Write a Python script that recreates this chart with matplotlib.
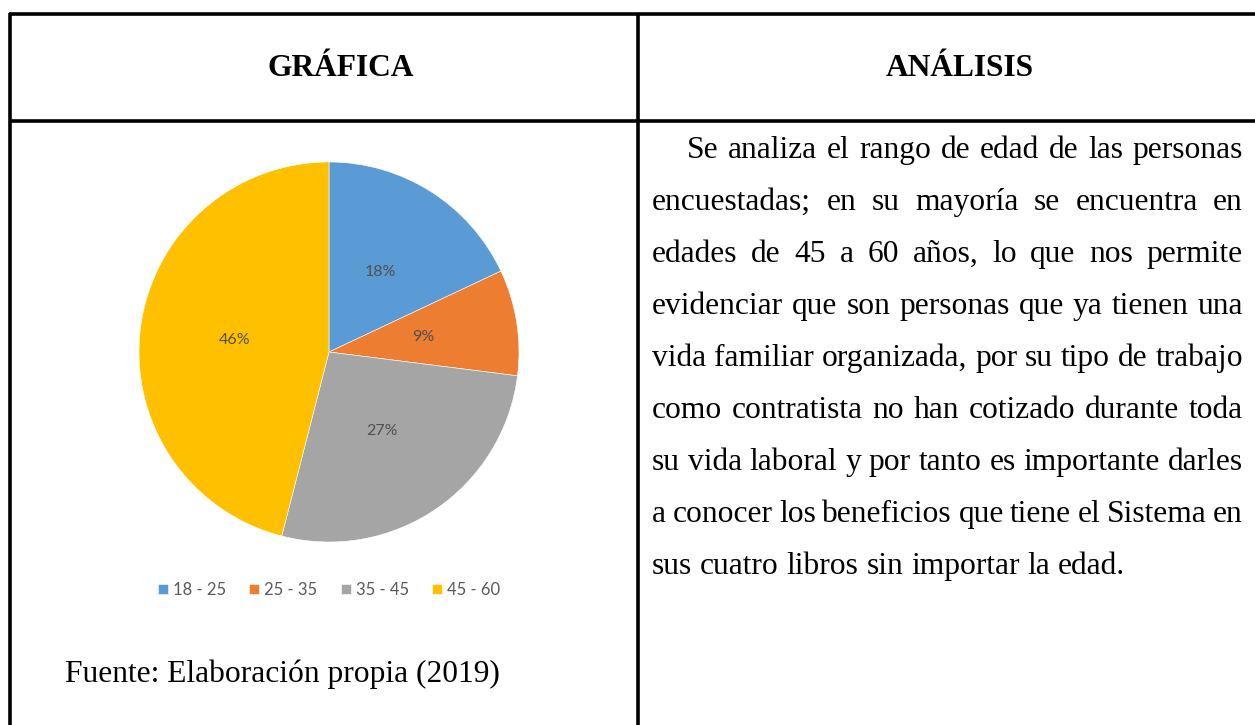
import matplotlib
matplotlib.use("Agg")
import matplotlib.pyplot as plt

# data
age_groups = ["18 - 25", "25 - 35", "35 - 45", "45 - 60"]
shares = [18, 9, 27, 46]
slice_colors = ["#5B9BD5", "#ED7D31", "#A5A5A5", "#FFC000"]

header_left = "GRÁFICA"
header_right = "ANÁLISIS"
source_note = "Fuente: Elaboración propia (2019)"
analysis_lines = [
    "Se analiza el rango de edad de las personas",
    "encuestadas; en su mayoría se encuentra en",
    "edades de 45 a 60 años, lo que nos permite",
    "evidenciar que son personas que ya tienen una",
    "vida familiar organizada, por su tipo de trabajo",
    "como contratista no han cotizado durante toda",
    "su vida laboral y por tanto es importante darles",
    "a conocer los beneficios que tiene el Sistema en",
    "sus cuatro libros sin importar la edad.",
]

W, H = 1255, 725
serif = "Liberation Serif"
body_fs = 22.7

fig = plt.figure(figsize=(W / 100, H / 100), dpi=100)
ax = fig.add_axes([0, 0, 1, 1])
ax.set_xlim(0, W)
ax.set_ylim(H, 0)
ax.axis("off")

# table lines
lw = 2.6
ax.plot([9, W], [14, 14], color="black", lw=lw, solid_capstyle="butt")
ax.plot([9, W], [121, 121], color="black", lw=lw, solid_capstyle="butt")
ax.plot([10, 10], [13, H], color="black", lw=lw, solid_capstyle="butt")
ax.plot([638, 638], [13, H], color="black", lw=lw, solid_capstyle="butt")

# headers
ax.text(341, 68, header_left, family=serif, fontsize=body_fs, fontweight="bold",
        ha="center", va="center")
ax.text(960, 68, header_right, family=serif, fontsize=body_fs, fontweight="bold",
        ha="center", va="center")

# source note
ax.text(65, 682, source_note, family=serif, fontsize=body_fs, va="baseline")

# justified paragraph
renderer = fig.canvas.get_renderer()
x_left, x_right, indent = 652, 1243, 35
y0, step = 158, 52
for i, line in enumerate(analysis_lines):
    y = y0 + i * step
    words = line.split(" ")
    texts = [ax.text(0, y, w, family=serif, fontsize=body_fs, va="baseline") for w in words]
    widths = [t.get_window_extent(renderer).width for t in texts]
    start = x_left + (indent if i == 0 else 0)
    if i < len(analysis_lines) - 1:
        gap = (x_right - start - sum(widths)) / (len(words) - 1)
    else:
        gap = body_fs * 100 / 72 * 0.25
    x = start
    for t, w in zip(texts, widths):
        t.set_x(x)
        x += w + gap

# pie
cx, cy, r = 329, 352, 190
pax = fig.add_axes([(cx - r) / W, (H - cy - r) / H, 2 * r / W, 2 * r / H])
wedges, _, autotexts = pax.pie(
    shares, colors=slice_colors, startangle=90, counterclock=False,
    autopct=lambda p: f"{p:.0f}%", pctdistance=0.5, radius=1,
    wedgeprops=dict(edgecolor="white", linewidth=0.4),
    textprops=dict(color="#505050", fontsize=11.5, family="Lato"),
)
pax.set_xlim(-1, 1)
pax.set_ylim(-1, 1)

fig.legend(wedges, age_groups, loc="center", ncol=4,
           bbox_to_anchor=(cx / W, 1 - 590 / H), frameon=False,
           handlelength=0.6, handleheight=0.6, handletextpad=0.3,
           columnspacing=1.4, prop=dict(family="Lato", size=12),
           labelcolor="#595959")

fig.savefig("out.png", dpi=100)
